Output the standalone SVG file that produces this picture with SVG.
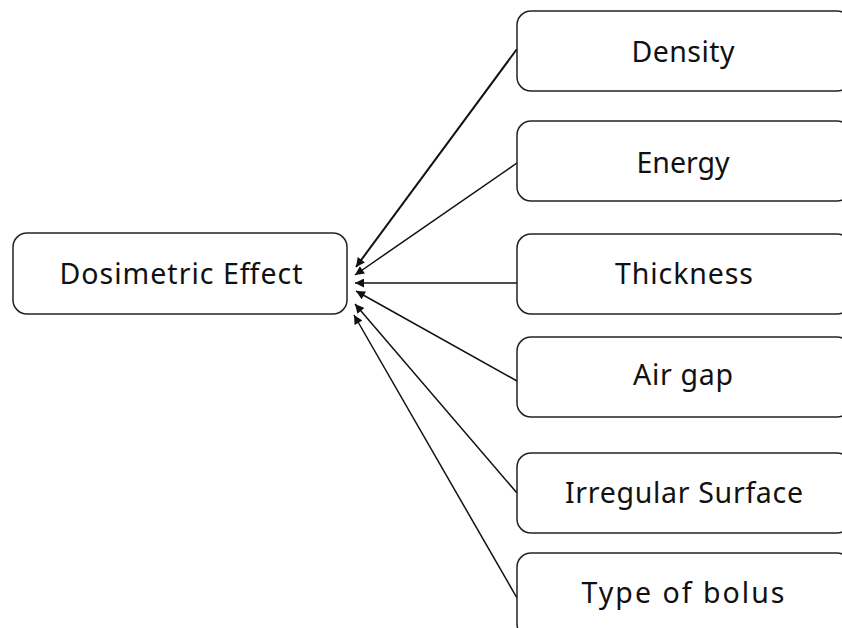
<svg xmlns="http://www.w3.org/2000/svg" width="842" height="628" viewBox="0 0 842 628">
<defs>
<style>
.box{fill:#fff;stroke:#222;stroke-width:1.5}
.lbl{font-family:"Noto Sans","Open Sans","DejaVu Sans",sans-serif;font-size:28.5px;fill:#111;text-anchor:middle}
.edge{stroke:#111;stroke-width:1.5;fill:none}
</style>
<marker id="ah" viewBox="0 0 10 10" refX="10" refY="5" markerWidth="10" markerHeight="9" markerUnits="userSpaceOnUse" orient="auto">
<path d="M0,0 L10,5 L0,10 z" fill="#111"/>
</marker>
</defs>
<rect width="842" height="628" fill="#fff"/>
<g id="connectors">
<line class="edge" style="stroke-width:2" x1="517" y1="49" x2="356" y2="267" marker-end="url(#ah)"/>
<line class="edge" x1="517" y1="163" x2="355" y2="275" marker-end="url(#ah)"/>
<line class="edge" x1="517" y1="283" x2="355" y2="283" marker-end="url(#ah)"/>
<line class="edge" x1="517" y1="381" x2="356" y2="291" marker-end="url(#ah)"/>
<line class="edge" x1="517" y1="493" x2="355" y2="304" marker-end="url(#ah)"/>
<line class="edge" x1="517" y1="598" x2="354" y2="315" marker-end="url(#ah)"/>
</g>
<g id="dosimetric-effect">
<rect class="box" x="13" y="233" width="334" height="81" rx="14"/>
<text class="lbl" x="181" y="284" textLength="243">Dosimetric Effect</text>
</g>
<g id="density">
<rect class="box" x="517" y="11" width="334" height="80" rx="14"/>
<text class="lbl" x="683" y="62" textLength="103">Density</text>
</g>
<g id="energy">
<rect class="box" x="517" y="121" width="334" height="80" rx="14"/>
<text class="lbl" x="683" y="173" textLength="93">Energy</text>
</g>
<g id="thickness">
<rect class="box" x="517" y="234" width="334" height="80" rx="14"/>
<text class="lbl" x="684" y="284" textLength="138">Thickness</text>
</g>
<g id="air-gap">
<rect class="box" x="517" y="337" width="334" height="80" rx="14"/>
<text class="lbl" x="683" y="385" textLength="100">Air gap</text>
</g>
<g id="irregular-surface">
<rect class="box" x="517" y="453" width="334" height="80" rx="14"/>
<text class="lbl" x="684" y="503" textLength="238">Irregular Surface</text>
</g>
<g id="type-of-bolus">
<rect class="box" x="517" y="553" width="334" height="85" rx="14"/>
<text class="lbl" x="683" y="603" textLength="203">Type of bolus</text>
</g>
</svg>
